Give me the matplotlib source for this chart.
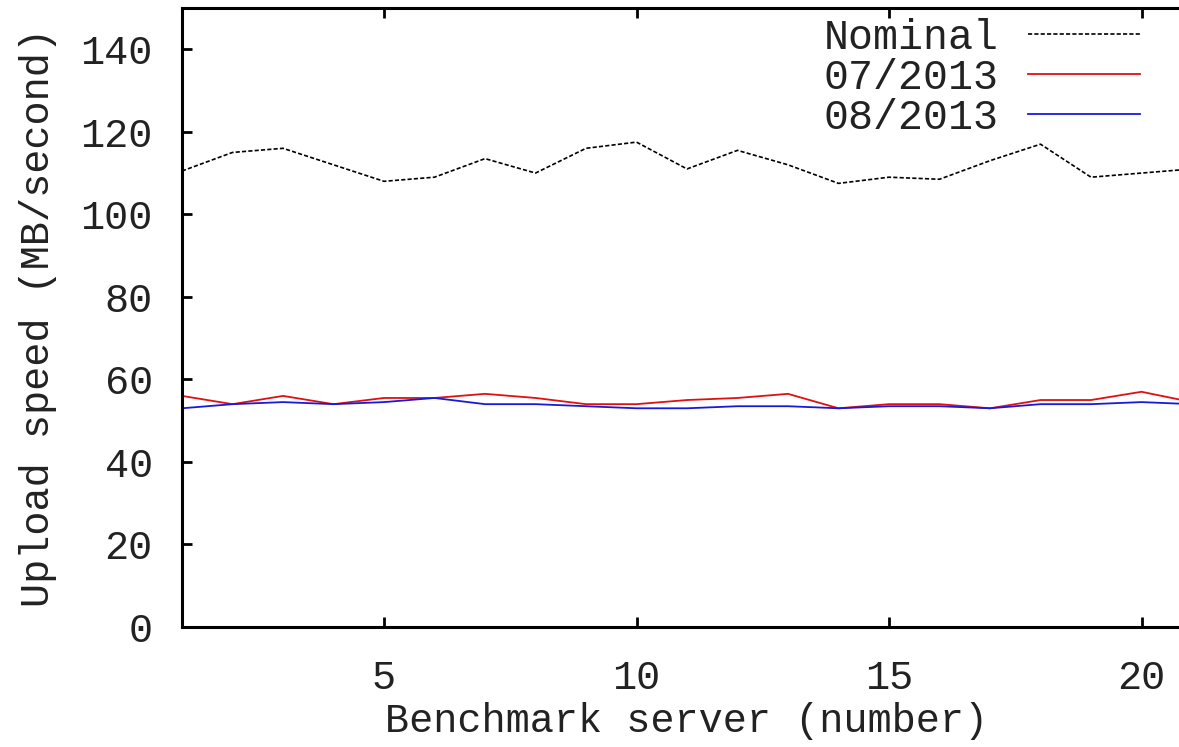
import matplotlib
matplotlib.use("Agg")
import matplotlib.pyplot as plt

servers = list(range(1, 22))
nominal = [110.5, 115, 116, 112, 108, 109, 113.5, 110, 116, 117.5, 111, 115.5, 112,
           107.5, 109, 108.5, 113, 117, 109, 110, 111]
jul_2013 = [56, 54, 56, 54, 55.5, 55.5, 56.5, 55.5, 54, 54, 55, 55.5, 56.5,
            53, 54, 54, 53, 55, 55, 57, 54.5]
aug_2013 = [53, 54, 54.5, 54, 54.5, 55.5, 54, 54, 53.5, 53, 53, 53.5, 53.5,
            53, 53.5, 53.5, 53, 54, 54, 54.5, 54]

plt.rcParams["font.family"] = ["Liberation Mono", "DejaVu Sans Mono"]
W, H = 1179, 747
fig = plt.figure(figsize=(W / 100, H / 100), dpi=100)
# axes: x=1 at px 182, 50.5 px per unit; y: 0 at px 627, top (150) at px 8
left, bottom, top = 182, 627, 8
ax = fig.add_axes([left / W, 1 - bottom / H, (20 * 50.5) / W, (bottom - top) / H])

ax.plot(servers, nominal, color="black", lw=1.2, dashes=(2.5, 1.3), label="Nominal")
ax.plot(servers, jul_2013, color="#e01010", lw=1.3, label="07/2013")
ax.plot(servers, aug_2013, color="#1818e0", lw=1.3, label="08/2013")

ax.set_xlim(1, 21)
ax.set_ylim(0, 150)
ax.set_xticks([5, 10, 15, 20])
ax.set_yticks(range(0, 141, 20))
ax.tick_params(direction="in", length=7, width=2, labelsize=29,
               top=True, right=True, labelcolor="#222222")
ax.tick_params(axis="x", pad=23)
ax.tick_params(axis="y", pad=21)
for s in ax.spines.values():
    s.set_linewidth(2.2)

ax.set_xlabel("Benchmark server (number)", fontsize=29, labelpad=4, color="#222222")
ax.set_ylabel("Upload speed (MB/second)", fontsize=29, labelpad=17, color="#222222")

ax.legend(loc="upper right", bbox_to_anchor=(1140 / W, 1 - 18 / H),
          bbox_transform=fig.transFigure, frameon=False, markerfirst=False,
          fontsize=30, handlelength=2.7, handletextpad=0.7, labelspacing=0.0,
          borderpad=0, borderaxespad=0, labelcolor="#222222")

fig.savefig("out.png", dpi=100)
